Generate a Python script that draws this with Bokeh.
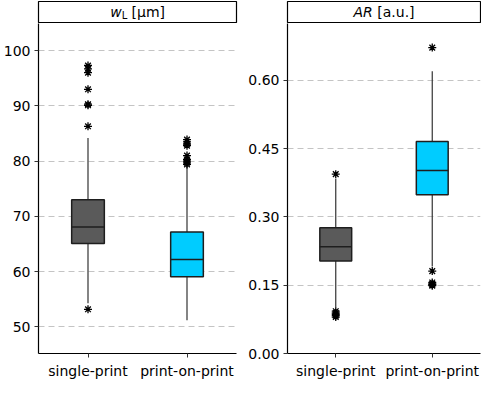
from bokeh.plotting import figure
from bokeh.layouts import row, column
from bokeh.models import Range1d, FactorRange, FixedTicker, NumeralTickFormatter, ColumnDataSource
from bokeh.transform import dodge
from bokeh.core.properties import value
from bokeh.embed import file_html
from bokeh.resources import INLINE

categories = ["single-print", "print-on-print"]
box_colors = ["#5a5a5a", "#00ccff"]

# Panel 1: w_L [µm]
w_q1 = [65.1, 59.1]
w_median = [68.1, 62.2]
w_q3 = [73.0, 67.2]
w_lower = [54.3, 51.2]
w_upper = [84.2, 79.1]
w_out_single = [53.2, 86.3, 90.1, 90.3, 93.0, 96.0, 96.7, 97.3]
w_out_pop = [79.4, 79.7, 80.0, 80.3, 81.0, 82.8, 83.1, 83.5, 83.9]
w_ticks = [50, 60, 70, 80, 90, 100]

# Panel 2: AR [a.u.]
ar_q1 = [0.203, 0.349]
ar_median = [0.2345, 0.402]
ar_q3 = [0.276, 0.4656]
ar_lower = [0.101, 0.191]
ar_upper = [0.384, 0.620]
ar_out_single = [0.080, 0.083, 0.086, 0.089, 0.093, 0.394]
ar_out_pop = [0.149, 0.151, 0.153, 0.156, 0.181, 0.672]
ar_ticks = [0.00, 0.15, 0.30, 0.45, 0.60]

FONT = "DejaVu Sans"
BOXW = 0.33


def make_panel(q1, med, q3, lo, hi, out_a, out_b, ticks, yr, width, mbl, mbr, fmt=None):
    p = figure(x_range=FactorRange(*categories), y_range=Range1d(*yr),
               width=width, height=358, output_backend="svg", toolbar_location=None,
               min_border_left=mbl, min_border_right=mbr, min_border_top=0, min_border_bottom=2)
    p.outline_line_color = None
    p.background_fill_color = "white"
    p.border_fill_color = "white"
    src = ColumnDataSource(dict(cat=categories, q1=q1, med=med, q3=q3, lo=lo, hi=hi, color=box_colors))
    p.segment(x0="cat", x1="cat", y0="q3", y1="hi", source=src, line_color="#333333", line_width=1.2)
    p.segment(x0="cat", x1="cat", y0="q1", y1="lo", source=src, line_color="#333333", line_width=1.2)
    p.vbar(x="cat", width=BOXW, bottom="q1", top="q3", source=src,
           fill_color="color", line_color="#1e1e1e", line_width=1.5)
    p.segment(x0=dodge("cat", -BOXW / 2, range=p.x_range), x1=dodge("cat", BOXW / 2, range=p.x_range),
              y0="med", y1="med", source=src, line_color="#1e1e1e", line_width=1.5)
    ox = [categories[0]] * len(out_a) + [categories[1]] * len(out_b)
    oy = list(out_a) + list(out_b)
    p.scatter(x=ox, y=oy, marker="asterisk", size=8, line_color="black", line_width=1.3)

    p.xgrid.grid_line_color = None
    p.ygrid.ticker = FixedTicker(ticks=ticks)
    p.ygrid.grid_line_color = "#c4c4c4"
    p.ygrid.grid_line_dash = "6 4"
    p.ygrid.grid_line_width = 1
    p.yaxis.ticker = FixedTicker(ticks=ticks)
    if fmt:
        p.yaxis.formatter = NumeralTickFormatter(format=fmt)
    for ax in (p.xaxis[0], p.yaxis[0]):
        ax.axis_line_color = "black"
        ax.axis_line_width = 1.2
        ax.major_tick_line_color = "#333333"
        ax.major_tick_out = 4
        ax.major_tick_in = 0
        ax.minor_tick_line_color = None
        ax.major_label_text_font = FONT
        ax.major_label_text_font_size = "14px"
        ax.major_label_text_color = "black"
        ax.major_label_standoff = 4
        ax.axis_label = None
    p.xaxis.major_label_standoff = 5
    return p


def make_strip(width, mbl, mbr, parts):
    s = figure(x_range=Range1d(0, 1), y_range=Range1d(0, 1), width=width, height=23,
               output_backend="svg", toolbar_location=None, x_axis_type=None, y_axis_type=None,
               min_border_left=mbl, min_border_right=mbr, min_border_top=1, min_border_bottom=0)
    s.xgrid.grid_line_color = None
    s.ygrid.grid_line_color = None
    s.outline_line_color = "black"
    s.outline_line_width = 1.2
    for (txt, x, y, style, size) in parts:
        s.text(x=[x], y=[y], text=[txt], text_font=value(FONT), text_font_style=style,
               text_font_size=size, text_baseline="middle", text_align="left", text_color="black")
    return s


LW, LBL, LBR = 240, 37, 4
RW, RBL, RBR = 241, 47, 1

strip1 = make_strip(LW, LBL, LBR, [("w", 0.3625, 0.52, "italic", "14px"),
                                   ("L", 0.42, 0.36, "normal", "10px"),
                                   ("[µm]", 0.47, 0.52, "normal", "14px")])
strip2 = make_strip(RW, RBL, RBR, [("AR", 0.342, 0.52, "italic", "14px"),
                                   ("[a.u.]", 0.4653, 0.52, "normal", "14px")])

p1 = make_panel(w_q1, w_median, w_q3, w_lower, w_upper, w_out_single, w_out_pop,
                w_ticks, (45.2, 104.9), LW, LBL, LBR)
p2 = make_panel(ar_q1, ar_median, ar_q3, ar_lower, ar_upper, ar_out_single, ar_out_pop,
                ar_ticks, (0.0, 0.725), RW, RBL, RBR, fmt="0.00")

layout = row(column(strip1, p1, spacing=0), column(strip2, p2, spacing=0), spacing=0)
open("out.html", "w").write(file_html(layout, INLINE))
